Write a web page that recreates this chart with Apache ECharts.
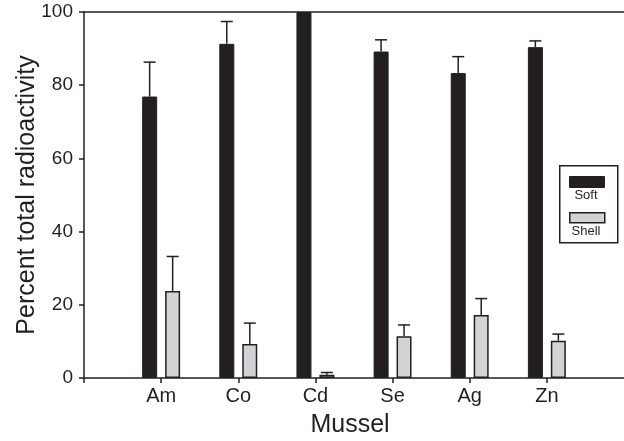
<!DOCTYPE html>
<html>
<head>
<meta charset="utf-8">
<script src="https://cdn.jsdelivr.net/npm/echarts@6/dist/echarts.min.js"></script>
<style>
  html, body { margin: 0; padding: 0; background: #fff; }
  #chart { width: 624px; height: 441px; }
</style>
</head>
<body>
<div id="chart"></div>
<script>
const categories = ['Am', 'Co', 'Cd', 'Se', 'Ag', 'Zn'];
const softValues = [76.9, 91.3, 100, 89.2, 83.3, 90.4];
const softErrors = [9.4, 6.1, 0, 3.2, 4.5, 1.7];
const shellValues = [23.8, 9.3, 0.9, 11.4, 17.2, 10.2];
const shellErrors = [9.4, 5.7, 0.6, 3.1, 4.5, 1.8];

const ink = '#231f20';
const grey = '#d1d3d4';
const font = '"Liberation Sans", Arial, Helvetica, sans-serif';

// x position of each mussel group: 1..6 on a 0..7 axis
function toRows(values, errors) {
    return categories.map((c, i) => [i + 1, values[i], errors[i]]);
}
const xTicks = [0].concat(categories.map((c, i) => i + 1));

// error bar drawn upward only, with a cap
function errorBar(offset) {
    return function (params, api) {
        const e = api.value(2);
        if (!e) return;
        const base = api.coord([api.value(0), api.value(1)]);
        const top = api.coord([api.value(0), api.value(1) + e]);
        const cx = base[0] + offset;
        const st = {stroke: ink, lineWidth: 1.5};
        return {
            type: 'group',
            children: [
                {type: 'line', shape: {x1: cx, y1: base[1], x2: cx, y2: top[1]}, style: st},
                {type: 'line', shape: {x1: cx - 6, y1: top[1], x2: cx + 6, y2: top[1]}, style: st}
            ]
        };
    };
}

const chart = echarts.init(document.getElementById('chart'));
const option = {
    animation: false,
    textStyle: {fontFamily: font, color: ink},
    grid: {left: 84, right: 0, top: 12, bottom: 63, containLabel: false, outerBoundsMode: 'none'},
    xAxis: [{
        type: 'value', min: 0, max: 7, interval: 1,
        name: 'Mussel', nameLocation: 'middle', nameGap: 35, nameMoveOverlap: false,
        nameTextStyle: {fontSize: 25, color: ink, fontFamily: font, padding: [0, 8, 0, 0]},
        axisLine: {show: true, lineStyle: {color: ink, width: 1.5}},
        axisTick: {show: true, length: 5, customValues: xTicks, lineStyle: {color: ink, width: 1.5}},
        axisLabel: {
            fontSize: 20, color: ink, fontFamily: font, margin: 8,
            customValues: xTicks.slice(1),
            formatter: v => categories[v - 1] || ''
        },
        splitLine: {show: false}
    }, {
        type: 'value', min: 0, max: 7, position: 'top',
        axisLine: {show: true, onZero: false, lineStyle: {color: ink, width: 1.5}},
        axisTick: {show: false}, axisLabel: {show: false}, splitLine: {show: false}
    }],
    yAxis: {
        type: 'value', min: 0, max: 100, interval: 20,
        name: 'Percent total radioactivity', nameLocation: 'middle', nameGap: 44, nameMoveOverlap: false,
        nameTextStyle: {fontSize: 25, color: ink, fontFamily: font},
        axisLine: {show: true, lineStyle: {color: ink, width: 1.5}},
        axisTick: {show: true, inside: false, length: 5, lineStyle: {color: ink, width: 1.5}},
        axisLabel: {fontSize: 19, color: ink, fontFamily: font, margin: 11},
        splitLine: {show: false}
    },
    series: [
        {
            name: 'Soft', type: 'bar', xAxisIndex: 0,
            data: toRows(softValues, softErrors),
            encode: {x: 0, y: 1},
            barWidth: 15, barGap: '53%',
            itemStyle: {color: ink, borderColor: ink, borderWidth: 1}
        },
        {
            name: 'Shell', type: 'bar', xAxisIndex: 0,
            data: toRows(shellValues, shellErrors),
            encode: {x: 0, y: 1},
            barWidth: 15, barGap: '53%',
            itemStyle: {color: grey, borderColor: ink, borderWidth: 1.5}
        },
        {
            type: 'custom', xAxisIndex: 0, z: 5,
            data: toRows(softValues, softErrors),
            encode: {x: 0, y: 1},
            renderItem: errorBar(-11.5)
        },
        {
            type: 'custom', xAxisIndex: 0, z: 5,
            data: toRows(shellValues, shellErrors),
            encode: {x: 0, y: 1},
            renderItem: errorBar(11.5)
        }
    ],
    // legend box, text sits under each swatch like the original
    graphic: [
        {type: 'rect', left: 559, top: 165, shape: {width: 58, height: 77},
         style: {fill: '#fff', stroke: ink, lineWidth: 1.5}},
        {type: 'rect', left: 569, top: 176, shape: {width: 35, height: 11},
         style: {fill: ink, stroke: ink, lineWidth: 1}},
        {type: 'text', x: 586, y: 195, style: {text: 'Soft', fill: ink, font: '13px ' + font, align: 'center', verticalAlign: 'middle'}},
        {type: 'rect', left: 569, top: 212, shape: {width: 35, height: 10},
         style: {fill: grey, stroke: ink, lineWidth: 1.5}},
        {type: 'text', x: 586, y: 231, style: {text: 'Shell', fill: ink, font: '13px ' + font, align: 'center', verticalAlign: 'middle'}}
    ]
};
chart.setOption(option);
</script>
</body>
</html>
